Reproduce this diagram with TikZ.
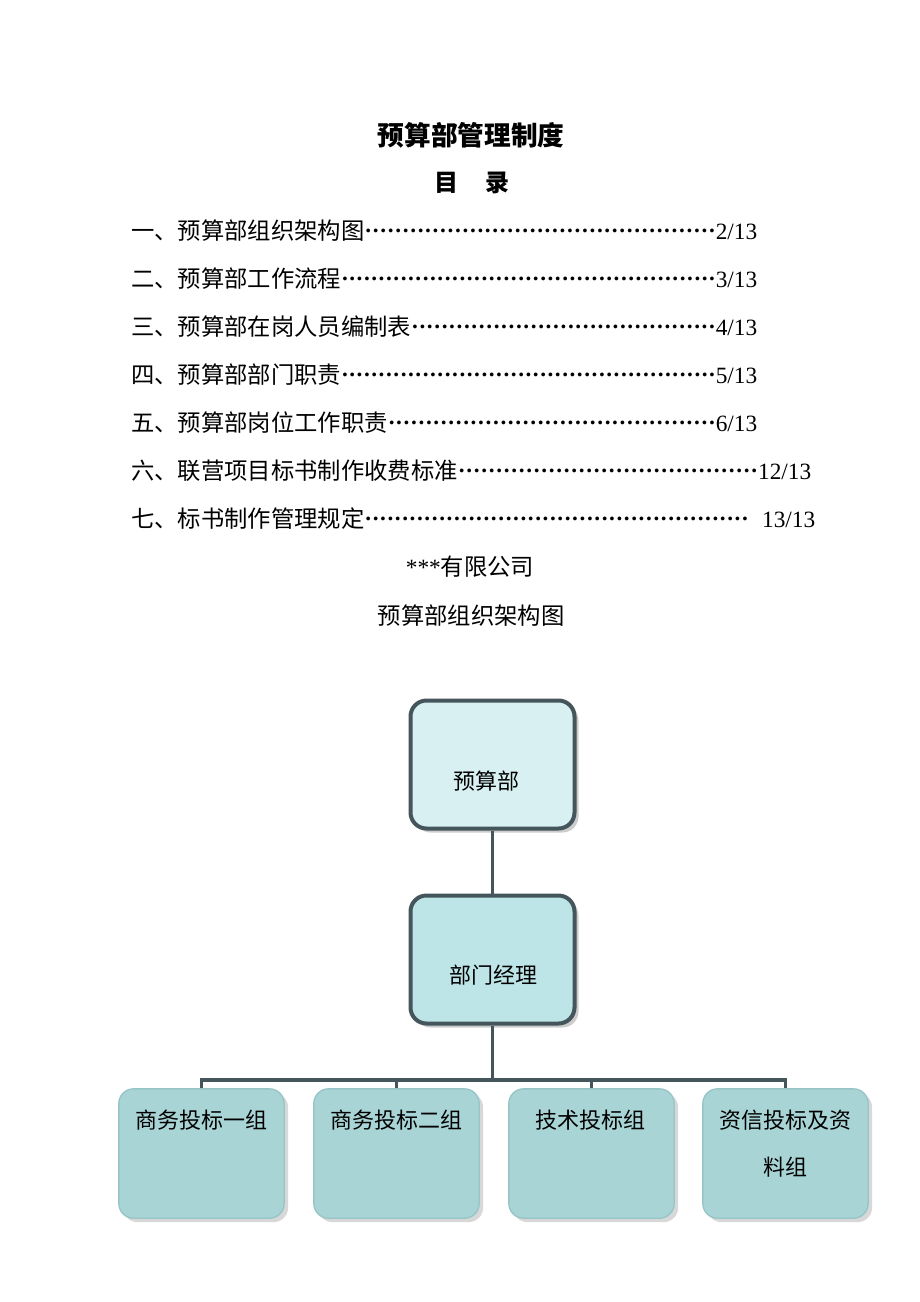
\documentclass[tikz,border=0pt]{standalone}
\usepackage{fontspec}
\setmainfont{Liberation Serif}
\newfontfamily\cjk{Noto Sans CJK SC}
\usetikzlibrary{shadows}
\definecolor{edgec}{HTML}{44555B}
\definecolor{topfill}{HTML}{D8F0F2}
\definecolor{midfill}{HTML}{BDE5E8}
\definecolor{botfill}{HTML}{A9D4D6}
\definecolor{botedge}{HTML}{96C4C7}
\newcommand{\tocdots}{\xleaders\hbox to 5.5pt{\hss\raisebox{5pt}{\textbf{.}}\hss}\hfill}
\begin{document}
\begin{tikzpicture}[x=0.75pt,y=-0.75pt,
  toc/.style={anchor=base west, inner sep=0pt, font=\fontsize{17.5}{20}\selectfont},
  plain/.style={inner sep=0pt, font=\cjk\fontsize{17.5}{20}\selectfont},
  boxtext/.style={inner sep=0pt, font=\cjk\fontsize{16.5}{20}\selectfont},
  upperbox/.style={draw=edgec, line width=3pt, rounded corners=12pt,
     minimum width=123pt, minimum height=96pt,
     drop shadow={shadow xshift=3pt, shadow yshift=-3pt, fill=black!40, opacity=0.5}},
  lowerbox/.style={draw=botedge, line width=1pt, fill=botfill, rounded corners=11pt,
     minimum width=124pt, minimum height=97pt,
     drop shadow={shadow xshift=3pt, shadow yshift=-3pt, fill=black!30, opacity=0.5}},
  conn/.style={draw=edgec, line width=2.3pt}
]
\useasboundingbox (0,0) rectangle (920,1302);

% titles
\node[plain, font=\cjk\bfseries\fontsize{20}{24}\selectfont] (title) at (471,135) {预算部管理制度};
\node[plain, font=\cjk\bfseries\fontsize{18}{22}\selectfont] (mulu) at (472,183) {目\hspace{1.1em}录};

% table of contents
\node[toc] (t1) at (131,239) {\hbox to 469.5pt{{\cjk 一、预算部组织架构图}\tocdots 2/13}};
\node[toc] (t2) at (131,287) {\hbox to 469.5pt{{\cjk 二、预算部工作流程}\tocdots 3/13}};
\node[toc] (t3) at (131,335) {\hbox to 469.5pt{{\cjk 三、预算部在岗人员编制表}\tocdots 4/13}};
\node[toc] (t4) at (131,383) {\hbox to 469.5pt{{\cjk 四、预算部部门职责}\tocdots 5/13}};
\node[toc] (t5) at (131,431) {\hbox to 469.5pt{{\cjk 五、预算部岗位工作职责}\tocdots 6/13}};
\node[toc] (t6) at (131,479) {\hbox to 510pt{{\cjk 六、联营项目标书制作收费标准}\tocdots 12/13}};
\node[toc] (t7) at (131,527) {\hbox to 513pt{{\cjk 七、标书制作管理规定}\tocdots\hspace{10pt}13/13}};

\node[plain] (company) at (470,567) {\fontspec{Liberation Serif}***\cjk 有限公司};
\node[plain] (charttitle) at (471,616) {预算部组织架构图};

% boxes
\node[upperbox, fill=topfill] (top) at (492.5,764.5) {};
\node[boxtext] (toplbl) at (486,781) {预算部};
\node[upperbox, fill=midfill] (mid) at (492.5,959.5) {};
\node[boxtext] (midlbl) at (493,975) {部门经理};

\node[lowerbox] (b1) at (201.5,1153.5) {};
\node[lowerbox] (b2) at (396.5,1153.5) {};
\node[lowerbox] (b3) at (591.5,1153.5) {};
\node[lowerbox] (b4) at (785.5,1153.5) {};
\node[boxtext] (l1) at (201,1120) {商务投标一组};
\node[boxtext] (l2) at (396,1120) {商务投标二组};
\node[boxtext] (l3) at (590,1120) {技术投标组};
\node[boxtext] (l4a) at (785,1120) {资信投标及资};
\node[boxtext] (l4b) at (785,1167) {料组};

% connectors
\coordinate (bus) at (493,1080);
\draw[conn] (top.south) -- (mid.north);
\draw[conn] (mid.south) -- (mid.south |- bus);
\draw[conn] (b1.north) -- (b1.north |- bus) -- (b4.north |- bus) -- (b4.north);
\draw[conn] (b2.north) -- (b2.north |- bus);
\draw[conn] (b3.north) -- (b3.north |- bus);
\end{tikzpicture}
\end{document}
